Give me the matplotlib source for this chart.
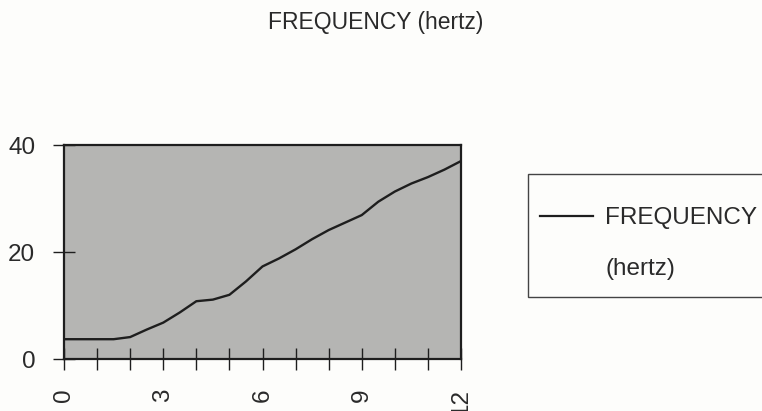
import matplotlib
matplotlib.use("Agg")
import matplotlib.pyplot as plt
from matplotlib.lines import Line2D
from matplotlib.patches import Rectangle
from matplotlib.ticker import MultipleLocator, FixedLocator

# Frequency readings over time
time_points = [0, 0.5, 1, 1.5, 2, 2.5, 3, 3.5, 4, 4.5, 5, 5.5, 6, 6.5,
               7, 7.5, 8, 8.5, 9, 9.5, 10, 10.5, 11, 11.5, 12]
frequency_hz = [3.7, 3.7, 3.7, 3.7, 4.1, 5.5, 6.8, 8.7, 10.8, 11.1, 12.0, 14.5,
                17.3, 18.8, 20.5, 22.4, 24.1, 25.5, 26.9, 29.4, 31.3, 32.8,
                34.0, 35.4, 37.0]
x_major = [0, 3, 6, 9, 12]
y_major = [0, 20, 40]
series_label = "FREQUENCY"
unit_label = "(hertz)"
title_text = "FREQUENCY (hertz)"

plt.rcParams["font.family"] = ["Liberation Sans", "DejaVu Sans"]
ink = "#1e1e1e"
text_ink = "#2a2a2a"
W, H = 762, 411

fig = plt.figure(figsize=(W / 100, H / 100), dpi=100, facecolor="#fdfdfb")
ax = fig.add_axes([64 / W, 1 - 359 / H, (461 - 64) / W, (359 - 145) / H])
ax.set_facecolor("#b5b5b3")

ax.plot(time_points, frequency_hz, color=ink, lw=1.7, solid_joinstyle="round")

ax.set_xlim(0, 12)
ax.set_ylim(0, 40)
ax.xaxis.set_major_locator(FixedLocator(x_major))
ax.xaxis.set_minor_locator(MultipleLocator(1))
ax.yaxis.set_major_locator(FixedLocator(y_major))
ax.set_xticklabels([str(v) for v in x_major], rotation=90)

for side in ax.spines.values():
    side.set_linewidth(1.6)
    side.set_color(ink)

ax.tick_params(axis="both", which="both", direction="inout", length=16.5,
               width=1.0, color=ink, labelcolor=text_ink, labelsize=17.5)
ax.tick_params(axis="y", pad=12.5)
ax.tick_params(axis="x", pad=13)

# Title centred over the figure
fig.text(376 / W, 1 - 22 / H, title_text, ha="center", va="center",
         fontsize=16.5, color=text_ink)

# Legend box, running off the right edge
fig.patches.append(Rectangle((528 / W, 1 - 297 / H), 260 / W, (297 - 174) / H,
                             transform=fig.transFigure, facecolor="#fdfdfb",
                             edgecolor="#444444", lw=1.0, zorder=1))

# Legend entries: series line with its name, units on a second row
handles = [Line2D([], [], color=ink, lw=1.6), Line2D([], [], color="none")]
leg = fig.legend(handles, [series_label, unit_label], loc="upper left",
                 bbox_to_anchor=(540 / W, 1 - 207 / H),
                 fontsize=17.5, frameon=False,
                 handlelength=2.2, handletextpad=0.48, borderpad=0,
                 borderaxespad=0, labelspacing=1.2, labelcolor=text_ink)
leg.set_zorder(2)

fig.savefig("out.png", dpi=100, facecolor=fig.get_facecolor())
